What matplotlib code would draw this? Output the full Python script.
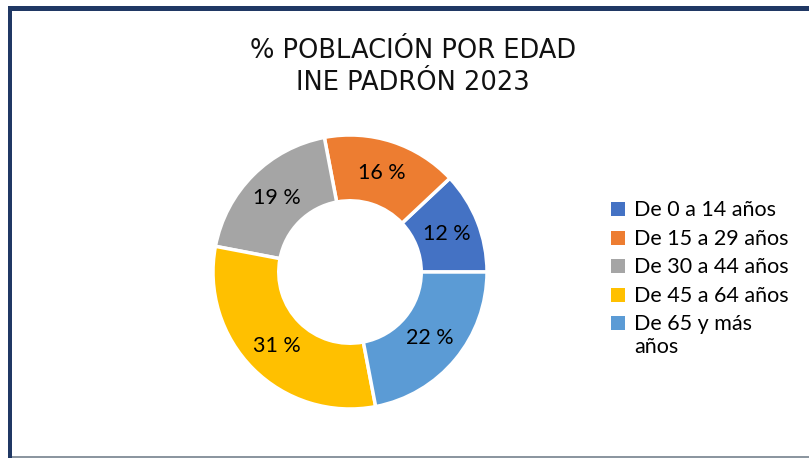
import matplotlib
matplotlib.use("Agg")
import matplotlib.pyplot as plt
from matplotlib.patches import Rectangle

categories = ["De 0 a 14 años", "De 15 a 29 años", "De 30 a 44 años",
              "De 45 a 64 años", "De 65 y más\naños"]
values = [12, 16, 19, 31, 22]
colors = ["#4472C4", "#ED7D31", "#A5A5A5", "#FFC000", "#5B9BD5"]
title = "% POBLACIÓN POR EDAD\nINE PADRÓN 2023"

W, H = 809, 458
fig = plt.figure(figsize=(W / 100, H / 100), dpi=100)
fig.patch.set_facecolor("white")

# frame decoration (pixel coordinates)
bg = fig.add_axes([0, 0, 1, 1])
bg.set_xlim(0, W)
bg.set_ylim(H, 0)
bg.axis("off")
navy = "#203864"
bg.add_patch(Rectangle((8, 6), W - 8, 4.5, color=navy, lw=0))
bg.add_patch(Rectangle((8, 6), 4.5, H - 6, color=navy, lw=0))
bg.add_patch(Rectangle((12, 456), W - 12, 1.5, color="#8C96A0", lw=0))

# donut
cx, cy, r = 350, 272, 137
ax = fig.add_axes([(cx - r) / W, (H - cy - r) / H, 2 * r / W, 2 * r / H])
wedges, texts, autotexts = ax.pie(
    values, colors=colors, startangle=0, counterclock=True,
    autopct=lambda p: f"{p:.0f} %", pctdistance=0.76,
    wedgeprops=dict(width=0.48, edgecolor="white", linewidth=2.5),
    textprops=dict(fontsize=15.5, family="Lato", color="black"))
ax.set_xlim(-1, 1)
ax.set_ylim(-1, 1)
ax.set_aspect("equal")

bg.text(413, 67, title, ha="center", va="center",
        fontsize=18.5, family="DejaVu Sans", color="#111111", linespacing=1.3)

# legend (square aligned with first line of each entry)
lx, ly0, step, sq = 611, 209, 28.6, 14
for i, (lab, col) in enumerate(zip(categories, colors)):
    y = ly0 + i * step
    bg.add_patch(Rectangle((lx, y - sq / 2), sq, sq, color=col, lw=0))
    bg.text(lx + 23, y - 9, lab, ha="left", va="top",
            fontsize=15.5, family="Lato", color="black", linespacing=1.18)

fig.savefig("out.png", dpi=100, facecolor="white")
